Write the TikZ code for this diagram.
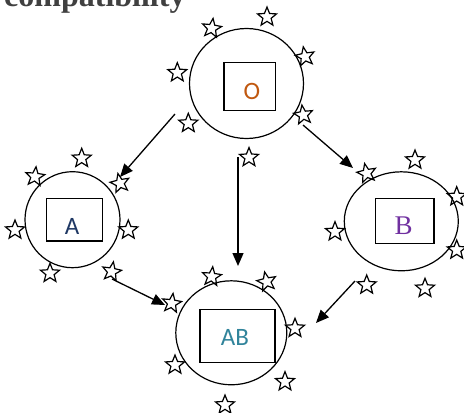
\documentclass[tikz,border=0pt]{standalone}
\usepackage{fontspec}
\setmainfont{Liberation Serif}
\newfontfamily\carl{Carlito}
\usetikzlibrary{shapes.geometric,arrows.meta}
\definecolor{titlegray}{HTML}{404040}
\definecolor{ocol}{HTML}{C0580F}
\definecolor{acol}{HTML}{1F3864}
\definecolor{bcol}{HTML}{7030A0}
\definecolor{abcol}{HTML}{31849B}
\tikzset{
  bubble/.style={draw, ellipse, line width=1.2pt, inner sep=0pt},
  innerbox/.style={draw, line width=1.4pt, inner sep=0pt},
  lbl/.style={inner sep=0pt, font=\carl\fontsize{25}{25}\selectfont},
  starry/.style={draw, star, star points=5, star point ratio=2.3, minimum size=20pt, inner sep=0pt, line width=1.2pt},
  link/.style={line width=1.3pt, -{Triangle[length=13pt,width=11pt]}},
}
\begin{document}
\begin{tikzpicture}[x=1pt,y=-1pt]
\useasboundingbox (0,0) rectangle (464,413);
% title
\node[anchor=base west, inner sep=0pt, text=titlegray, font=\bfseries\fontsize{32}{32}\selectfont] (title) at (4,6) {compatibility};
% bubbles
\node[bubble, minimum width=114pt, minimum height=110pt] (O) at (246.5,83.5) {};
\node[bubble, minimum width=95pt, minimum height=96pt] (A) at (72.5,219.7) {};
\node[bubble, minimum width=114pt, minimum height=99pt] (B) at (401.3,221.3) {};
\node[bubble, minimum width=111pt, minimum height=104pt] (AB) at (231.3,332.8) {};
% inner boxes
\node[innerbox, minimum width=51.7pt, minimum height=48pt] (Ob) at (249.8,86.7) {};
\node[innerbox, minimum width=55.6pt, minimum height=42.7pt] (Ab) at (74.5,219.7) {};
\node[innerbox, minimum width=58.3pt, minimum height=45pt] (Bb) at (404.8,220.8) {};
\node[innerbox, minimum width=75pt, minimum height=53.4pt] (ABb) at (237.5,336) {};
% labels
\node[lbl, text=ocol] (Ot) at (252,91.7) {O};
\node[lbl, text=acol] (At) at (72,226) {A};
\node[inner sep=0pt, text=bcol, font=\fontsize{27}{27}\selectfont] (Bt) at (403.7,226) {B};
\node[lbl, text=abcol] (ABt) at (235,337) {AB};
% arrow endpoints
\coordinate (oa1) at (175,114);
\coordinate (oa2) at (120,177);
\coordinate (oab1) at (238,157);
\coordinate (oab2) at (238,266);
\coordinate (ob1) at (303,125);
\coordinate (ob2) at (353,168);
\coordinate (aab1) at (112,279);
\coordinate (aab2) at (165,305);
\coordinate (bab1) at (355,281);
\coordinate (bab2) at (316,323);
\draw[link] (oa1) -- (oa2);
\draw[link] (oab1) -- (oab2);
\draw[link] (ob1) -- (ob2);
\draw[link] (aab1) -- (aab2);
\draw[link] (bab1) -- (bab2);
% stars around O
\node[starry] (s1) at (267,17) {};
\node[starry, rotate=-8] (s2) at (211.7,28.3) {};
\node[starry, rotate=10] (s3) at (305,56.7) {};
\node[starry] (s4) at (177.3,72.7) {};
\node[starry, rotate=8] (s5) at (303.3,115) {};
\node[starry] (s6) at (188.3,123.3) {};
\node[starry] (s7) at (249,157.5) {};
% stars around A
\node[starry] (s8) at (81.7,158.3) {};
\node[starry, rotate=-6] (s9) at (35,176.7) {};
\node[starry, rotate=12] (s10) at (120,183.3) {};
\node[starry] (s11) at (15,230) {};
\node[starry] (s12) at (128.3,230) {};
\node[starry] (s13) at (50,273.3) {};
\node[starry, rotate=-10] (s14) at (111.7,271.7) {};
% stars around B
\node[starry] (s15) at (415,160) {};
\node[starry, rotate=12] (s16) at (366.7,173.3) {};
\node[starry] (s17) at (456.7,196.7) {};
\node[starry] (s18) at (335,231.7) {};
\node[starry] (s19) at (456.7,250) {};
\node[starry] (s20) at (366.7,285) {};
\node[starry] (s21) at (425,288.3) {};
% stars around AB
\node[starry, rotate=-6] (s22) at (211.7,276.7) {};
\node[starry, rotate=12] (s23) at (266.7,281.7) {};
\node[starry, rotate=-8] (s24) at (171.7,303.3) {};
\node[starry] (s25) at (295,328.3) {};
\node[starry] (s26) at (175,365) {};
\node[starry] (s27) at (285,381.7) {};
\node[starry] (s28) at (225,405) {};
\end{tikzpicture}
\end{document}
